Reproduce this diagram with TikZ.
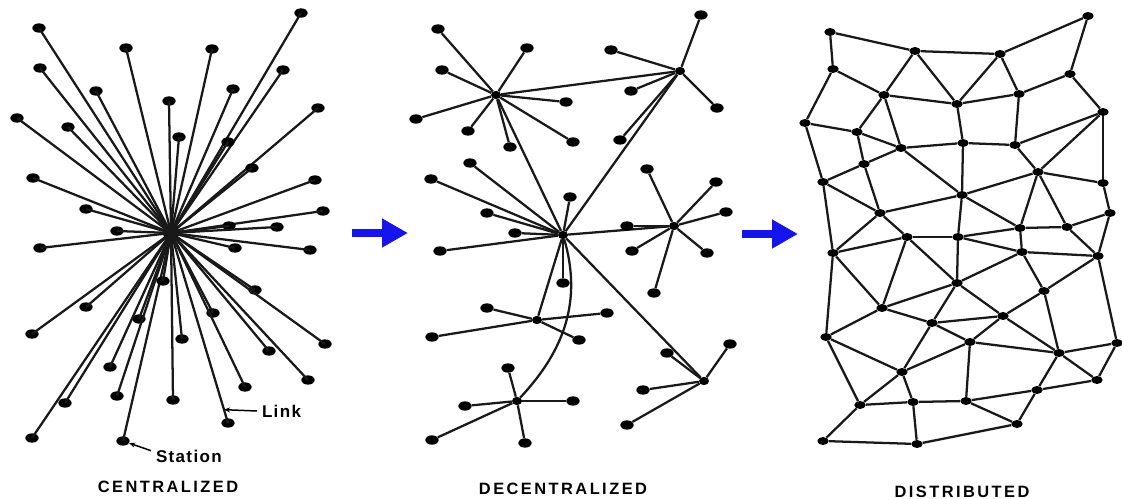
\documentclass[tikz,border=0pt]{standalone}
\usepackage{fontspec}
\newfontfamily\capfont[LetterSpace=15]{Liberation Sans}
\newfontfamily\tagfont[LetterSpace=8]{Liberation Sans}
\usetikzlibrary{arrows.meta,shapes.geometric,calc}
\definecolor{arrowblue}{RGB}{20,20,235}

\begin{document}
\begin{tikzpicture}[
  x=0.3mm, y=-0.3mm,
  link/.style={line width=0.68mm, draw=black!90},
  station/.style={ellipse, fill=black, inner sep=0pt, minimum width=4mm, minimum height=2.8mm},
  hub/.style={ellipse, fill=black, inner sep=0pt, minimum width=3mm, minimum height=2.5mm},
  knot/.style={ellipse, fill=black, inner sep=0pt, minimum width=3.4mm, minimum height=2.4mm},
  pointer/.style={line width=0.45mm, -{Stealth[length=1.8mm,width=1.5mm]}},
  caption/.style={font=\capfont\bfseries\fontsize{14}{16}\selectfont},
  tag/.style={font=\tagfont\bfseries\fontsize{14.5}{16}\selectfont, inner sep=0pt, outer sep=1.5mm, anchor=west},
  flow/.style={draw=arrowblue, line width=2.4mm, -{Triangle[length=7.8mm,width=8.2mm]}},
]
\useasboundingbox (0,0) rectangle (1122,499);

% centralized
\node[station, minimum width=4.8mm, minimum height=4.4mm] (c0) at (171,233) {};
\foreach \x/\y [count=\i] in {39/28, 126/48, 212/49, 301/13, 40/68, 283/70, 96/91, 233/89,
    169/101, 318/108, 17/118, 68/127, 179/137, 228/142, 252/168, 33/178, 315/180, 86/209,
    323/211, 117/231, 229/226, 277/227, 40/248, 235/248, 310/250, 255/290, 86/307, 213/313,
    32/334, 139/319, 182/339, 325/344, 269/351, 110/367, 308/380, 245/387, 117/396, 173/400,
    65/403, 228/423, 32/438, 123/441, 163/281}
  {\node[station] (c\i) at (\x,\y) {};
   \draw[link] (c0.center) -- (c\i.center);}
\coordinate (linkpt) at ($(c0)!0.93!(c40)$);
\node[tag] (lnk) at (257,411) {Link};
\draw[pointer] (lnk.west) -- (linkpt);
\node[tag] (stn) at (151,456) {Station};
\draw[pointer] (stn.172) -- (c42);
\node[caption] (capC) at (168,487) {CENTRALIZED};

\coordinate (f1a) at (352,233);
\coordinate (f1b) at (408,233);
\draw[flow] (f1a) -- (f1b);

% decentralized
\node[hub] (dA) at (496,95) {};
\node[hub] (dB) at (680,71) {};
\node[hub] (dC) at (563,235) {};
\node[hub] (dD) at (674,226) {};
\node[hub] (dE) at (537,320) {};
\node[hub] (dF) at (517,401) {};
\node[hub] (dG) at (704,381) {};
\draw[link] (dA) -- (dB) (dA) -- (dC) (dB) -- (dC) (dC) -- (dD) (dC) -- (dE) (dC) -- (dG);
\draw[link] (dC) .. controls (582,300) and (565,350) .. (dF);
\foreach \x/\y [count=\i] in {438/29, 527/48, 442/70, 566/102, 416/119, 468/131, 510/147, 573/142}
  {\node[station] (a\i) at (\x,\y) {}; \draw[link] (dA) -- (a\i);}
\foreach \x/\y [count=\i] in {701/15, 611/50, 631/91, 717/108, 620/140}
  {\node[station] (b\i) at (\x,\y) {}; \draw[link] (dB) -- (b\i);}
\foreach \x/\y [count=\i] in {470/163, 431/179, 570/197, 487/213, 515/233, 440/251, 563/283}
  {\node[station] (k\i) at (\x,\y) {}; \draw[link] (dC) -- (k\i);}
\foreach \x/\y [count=\i] in {647/169, 716/182, 726/212, 627/226, 632/251, 707/253, 654/293}
  {\node[station] (d\i) at (\x,\y) {}; \draw[link] (dD) -- (d\i);}
\foreach \x/\y [count=\i] in {487/308, 607/313, 432/337, 579/340}
  {\node[station] (e\i) at (\x,\y) {}; \draw[link] (dE) -- (e\i);}
\foreach \x/\y [count=\i] in {508/368, 465/406, 573/401, 432/440, 525/443}
  {\node[station] (f\i) at (\x,\y) {}; \draw[link] (dF) -- (f\i);}
\foreach \x/\y [count=\i] in {730/344, 667/353, 643/390, 627/425}
  {\node[station] (g\i) at (\x,\y) {}; \draw[link] (dG) -- (g\i);}
\node[caption] (capD) at (563,489) {DECENTRALIZED};

\coordinate (f2a) at (742,234);
\coordinate (f2b) at (798,234);
\draw[flow] (f2a) -- (f2b);

% distributed
\foreach \x/\y [count=\i] in {830/32, 915/51, 1000/54, 1088/16, 833/69, 1070/74, 884/95, 957/104,
    1019/94, 805/123, 1103/112, 857/132, 901/148, 963/143, 1015/145, 864/164, 823/182, 1038/172,
    1103/183, 962/195, 880/213, 1110/213, 1020/228, 1067/227, 907/237, 958/237, 833/253, 1022/252,
    1098/256, 957/283, 1044/291, 882/308, 1003/316, 932/323, 826/337, 970/342, 1059/353, 1117/343,
    902/372, 1097/380, 1037/390, 860/405, 913/402, 966/401, 1017/424, 823/441, 917/444}
  \node[knot] (n\i) at (\x,\y) {};
\foreach \a/\b in {1/2, 1/5, 2/3, 3/4, 4/6, 5/7, 5/10, 2/7, 2/8, 3/8, 3/9, 7/8, 8/9, 9/6, 6/11,
    7/12, 7/13, 10/12, 10/17, 12/13, 12/16, 16/13, 13/14, 8/14, 14/15, 9/15, 15/11, 15/18, 11/18,
    11/19, 16/17, 16/21, 13/20, 14/20, 20/18, 18/19, 18/23, 18/24, 19/22, 17/21, 17/27, 21/20,
    21/25, 21/27, 20/26, 20/23, 23/24, 24/22, 25/26, 26/23, 26/28, 23/28, 24/29, 22/29, 28/29,
    27/25, 25/32, 25/30, 26/30, 27/32, 27/35, 28/30, 28/31, 29/31, 29/38, 30/32, 30/34, 30/33,
    31/33, 31/37, 32/35, 32/34, 34/33, 34/36, 34/39, 33/36, 33/37, 36/37, 37/38, 37/40, 38/40,
    37/41, 36/39, 36/44, 35/39, 35/42, 39/42, 39/43, 42/43, 43/44, 44/41, 41/40, 41/45, 44/45,
    42/46, 46/47, 43/47, 47/45}
  \draw[link] (n\a) -- (n\b);
\node[caption] (capS) at (962,492) {DISTRIBUTED};
\end{tikzpicture}
\end{document}
